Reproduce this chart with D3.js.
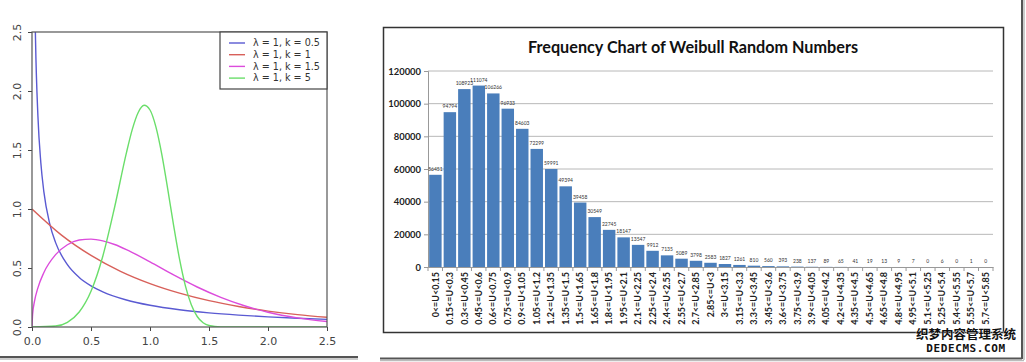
<!DOCTYPE html>
<html><head><meta charset="utf-8">
<script src="https://cdn.jsdelivr.net/npm/d3@7"></script>
<style>
html,body{margin:0;padding:0;background:#fff;}
svg{display:block;}
</style></head>
<body>
<svg id="c" width="1026" height="362"></svg>
<script>
// ---------- Left panel: Weibull density curves ----------
const legendLabels = ["λ = 1, k = 0.5", "λ = 1, k = 1", "λ = 1, k = 1.5", "λ = 1, k = 5"];
const curveColors = ["#5a5ad2", "#d8605a", "#dc4cdc", "#6ade6a"];
const xK05 = [0.01,0.02,0.03,0.05,0.075,0.1,0.15,0.2,0.3,0.4,0.5,0.6,0.8,1.0,1.25,1.5,1.75,2.0,2.25,2.5];
const yK05 = [4.52,3.07,2.43,1.79,1.39,1.15,0.876,0.715,0.528,0.420,0.349,0.298,0.229,0.184,0.146,0.120,0.101,0.086,0.074,0.065];
const xK1 = [0,0.25,0.5,0.75,1.0,1.25,1.5,1.75,2.0,2.25,2.5];
const yK1 = [1.0,0.779,0.607,0.472,0.368,0.287,0.223,0.174,0.135,0.105,0.082];
const xK15 = [0,0.005,0.02,0.05,0.1,0.2,0.3,0.4,0.5,0.6,0.7,0.8,1.0,1.2,1.4,1.6,1.8,2.0,2.25,2.5];
const yK15 = [0,0.106,0.212,0.332,0.460,0.613,0.697,0.737,0.745,0.730,0.699,0.656,0.552,0.441,0.339,0.251,0.180,0.125,0.077,0.046];
const xK5 = [0,0.2,0.3,0.4,0.5,0.6,0.7,0.8,0.85,0.9,0.95,1.0,1.05,1.1,1.15,1.2,1.25,1.3,1.35,1.4,1.45,1.5,1.6,1.8,2.5];
const yK5 = [0,0.008,0.040,0.127,0.303,0.600,1.015,1.476,1.675,1.818,1.879,1.839,1.696,1.463,1.170,0.862,0.577,0.349,0.188,0.089,0.036,0.013,0.001,0,0];
const leftXTicks = [0,0.5,1.0,1.5,2.0,2.5];
const leftYTicks = [0,0.5,1.0,1.5,2.0,2.5];

// ---------- Right panel: frequency chart ----------
const binLabels = ["0<=U<0.15","0.15<=U<0.3","0.3<=U<0.45","0.45<=U<0.6","0.6<=U<0.75","0.75<=U<0.9",
  "0.9<=U<1.05","1.05<=U<1.2","1.2<=U<1.35","1.35<=U<1.5","1.5<=U<1.65","1.65<=U<1.8","1.8<=U<1.95",
  "1.95<=U<2.1","2.1<=U<2.25","2.25<=U<2.4","2.4<=U<2.55","2.55<=U<2.7","2.7<=U<2.85","2.85<=U<3",
  "3<=U<3.15","3.15<=U<3.3","3.3<=U<3.45","3.45<=U<3.6","3.6<=U<3.75","3.75<=U<3.9","3.9<=U<4.05",
  "4.05<=U<4.2","4.2<=U<4.35","4.35<=U<4.5","4.5<=U<4.65","4.65<=U<4.8","4.8<=U<4.95","4.95<=U<5.1",
  "5.1<=U<5.25","5.25<=U<5.4","5.4<=U<5.55","5.55<=U<5.7","5.7<=U<5.85"];
const binCounts = [56451,94794,108923,111074,106266,96933,84603,72299,59991,49394,39458,30549,22745,
  18147,13547,9912,7135,5089,3798,2583,1827,1261,810,560,393,238,137,89,65,41,19,13,9,7,0,6,0,1,0];
const freqTicks = [0,20000,40000,60000,80000,100000,120000];
const chartTitle = "Frequency Chart of Weibull Random Numbers";
const watermark1 = "织梦内容管理系统";
const watermark2 = "DEDECMS.COM";

const svg = d3.select("#c");

// ===== Left panel =====
const L = {x0:32, x1:327, y0:32, y1:327};
const lx = d3.scaleLinear().domain([0,2.5]).range([L.x0, L.x1]);
const ly = d3.scaleLinear().domain([0,2.5]).range([L.y1, L.y0]);

svg.append("defs").append("clipPath").attr("id","lclip")
  .append("rect").attr("x",L.x0).attr("y",L.y0).attr("width",L.x1-L.x0).attr("height",L.y1-L.y0);

const series = [[xK05,yK05],[xK1,yK1],[xK15,yK15],[xK5,yK5]];
const line = d3.line().x(d=>lx(d[0])).y(d=>ly(d[1])).curve(d3.curveMonotoneX);
const gCurves = svg.append("g").attr("clip-path","url(#lclip)");
series.forEach((s,i)=>{
  const pts = s[0].map((x,j)=>[x,s[1][j]]);
  gCurves.append("path").attr("d",line(pts)).attr("fill","none")
    .attr("stroke",curveColors[i]).attr("stroke-width",1.4);
});

// axes
const gLX = svg.append("g").attr("transform",`translate(0,${L.y1})`)
  .call(d3.axisBottom(lx).tickValues(leftXTicks).tickFormat(d3.format(".1f")).tickSize(4).tickPadding(6));
const gLY = svg.append("g").attr("transform",`translate(${L.x0},0)`)
  .call(d3.axisLeft(ly).tickValues(leftYTicks).tickFormat(d3.format(".1f")).tickSize(4).tickPadding(6));
[gLX,gLY].forEach(g=>{
  g.select(".domain").remove();
  g.selectAll("line").attr("stroke","#444");
  g.selectAll("text").attr("font-family","DejaVu Sans").attr("font-size",11).attr("fill","#444");
});
gLY.selectAll(".tick text").attr("text-anchor","middle").attr("x",0).attr("dy",0)
  .attr("transform","translate(-15,0) rotate(-90)").attr("dy","0.35em");
// box
svg.append("rect").attr("x",L.x0).attr("y",L.y0).attr("width",L.x1-L.x0).attr("height",L.y1-L.y0)
  .attr("fill","none").attr("stroke","#555").attr("stroke-width",1.2);

// legend
const lg = svg.append("g");
lg.append("rect").attr("x",220).attr("y",L.y0).attr("width",L.x1-220).attr("height",57)
  .attr("fill","#fff").attr("stroke","#444").attr("stroke-width",1.2);
legendLabels.forEach((t,i)=>{
  const yy = 43 + i*11.7;
  lg.append("line").attr("x1",229).attr("x2",245).attr("y1",yy).attr("y2",yy)
    .attr("stroke",curveColors[i]).attr("stroke-width",1.4);
  lg.append("text").attr("x",253).attr("y",yy).attr("dy","0.35em")
    .attr("font-family","DejaVu Sans").attr("font-size",9.6).attr("fill","#333").text(t);
});

// left panel shadow
svg.append("line").attr("x1",0).attr("x2",358).attr("y1",357).attr("y2",357)
  .attr("stroke","#555").attr("stroke-width",2);
svg.append("line").attr("x1",0).attr("x2",358).attr("y1",359).attr("y2",359)
  .attr("stroke","#bbb").attr("stroke-width",1.5);

// ===== Right panel =====
// outer shadow frame
svg.append("line").attr("x1",380).attr("x2",1022).attr("y1",358.5).attr("y2",358.5)
  .attr("stroke","#555").attr("stroke-width",2);
svg.append("line").attr("x1",1022).attr("x2",1022).attr("y1",0).attr("y2",359)
  .attr("stroke","#555").attr("stroke-width",2);
svg.append("line").attr("x1",1024).attr("x2",1024).attr("y1",0).attr("y2",360)
  .attr("stroke","#bbb").attr("stroke-width",1.5);
svg.append("line").attr("x1",380).attr("x2",1024).attr("y1",360.5).attr("y2",360.5)
  .attr("stroke","#bbb").attr("stroke-width",1.5);
// chart frame
svg.append("rect").attr("x",383.5).attr("y",27.5).attr("width",620).attr("height",305)
  .attr("fill","#fff").attr("stroke","#333").attr("stroke-width",1.5);

const R = {x0:428, x1:993, y0:71, y1:267};
const bx = d3.scaleBand().domain(binLabels).range([R.x0,R.x1]).paddingInner(0.14).paddingOuter(0.08);
const by = d3.scaleLinear().domain([0,120000]).range([R.y1,R.y0]);

// title
svg.append("text").attr("x",693).attr("y",53).attr("text-anchor","middle")
  .attr("font-family","Lato").attr("font-weight","bold").attr("font-size",16.2).attr("fill","#111")
  .text(chartTitle);

// gridlines
svg.append("g").selectAll("line").data(freqTicks.filter(d=>d>0)).join("line")
  .attr("x1",R.x0).attr("x2",R.x1).attr("y1",d=>by(d)).attr("y2",d=>by(d))
  .attr("stroke","#b8b8b8").attr("stroke-width",1);

// y axis
const gRY = svg.append("g").attr("transform",`translate(${R.x0},0)`)
  .call(d3.axisLeft(by).tickValues(freqTicks).tickFormat(d3.format("d")).tickSize(4).tickPadding(3));
gRY.select(".domain").attr("stroke","#999");
gRY.selectAll("line").attr("stroke","#999");
gRY.selectAll("text").attr("font-family","Lato").attr("font-weight","bold").attr("font-size",9.4).attr("fill","#222");

// bars
svg.append("g").selectAll("rect").data(binCounts).join("rect")
  .attr("x",(d,i)=>bx(binLabels[i])).attr("width",bx.bandwidth())
  .attr("y",d=>by(d)).attr("height",d=>R.y1-by(d))
  .attr("fill","#4a7ebb");

// data labels
svg.append("g").selectAll("text").data(binCounts).join("text")
  .attr("x",(d,i)=>bx(binLabels[i])+bx.bandwidth()/2).attr("y",d=>by(d)-4)
  .attr("text-anchor","middle").attr("font-family","Lato").attr("font-size",5).attr("fill","#333")
  .text(d=>d);

// x axis
const gRX = svg.append("g").attr("transform",`translate(0,${R.y1})`)
  .call(d3.axisBottom(bx).tickSize(0).tickPadding(5));
gRX.select(".domain").attr("stroke","#999");
gRX.selectAll(".tick text").attr("font-family","Lato").attr("font-weight","bold").attr("font-size",9)
  .attr("fill","#222").attr("text-anchor","end").attr("y",0).attr("dy",0)
  .attr("transform","translate(0,5) rotate(-90)").attr("dy","0.35em");
// between-category tick marks
svg.append("g").selectAll("line").data(d3.range(binLabels.length+1)).join("line")
  .attr("x1",i=>R.x0 + i*(R.x1-R.x0)/binLabels.length).attr("x2",i=>R.x0 + i*(R.x1-R.x0)/binLabels.length)
  .attr("y1",R.y1).attr("y2",R.y1+4).attr("stroke","#999");

// watermark
svg.append("text").attr("x",966).attr("y",339).attr("text-anchor","middle")
  .attr("font-family","Noto Sans CJK SC").attr("font-weight","bold").attr("font-size",12.5)
  .attr("fill","#111").attr("stroke","#fff").attr("stroke-width",0.6).attr("paint-order","stroke")
  .text(watermark1);
svg.append("text").attr("x",966).attr("y",352).attr("text-anchor","middle")
  .attr("font-family","DejaVu Sans Mono").attr("font-weight","bold").attr("font-size",11)
  .attr("letter-spacing",0.6).attr("fill","#111").text(watermark2);
</script>
</body></html>
